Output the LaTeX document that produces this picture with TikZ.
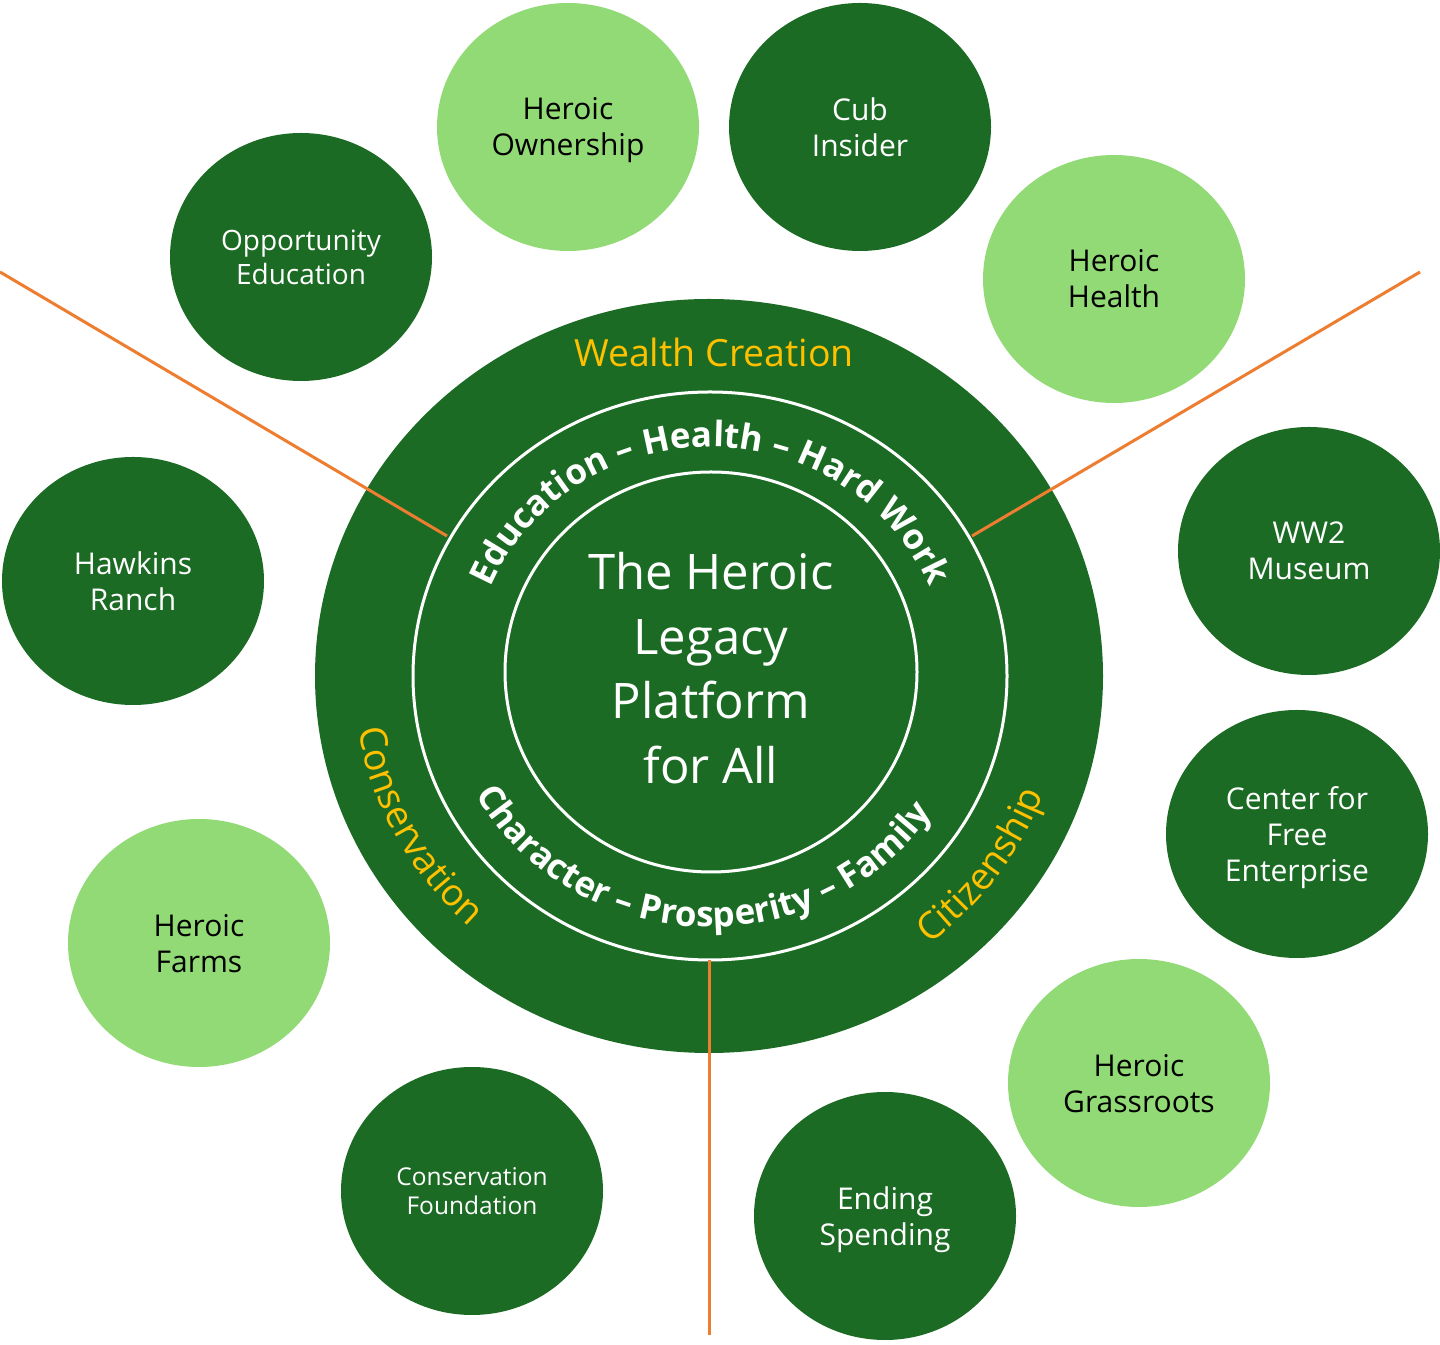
\documentclass[tikz,border=0pt]{standalone}
\usepackage{fontspec}
\setmainfont{Open Sans}
\usetikzlibrary{shapes.geometric,decorations.text}
\definecolor{dkgreen}{HTML}{1B6B24}
\definecolor{ltgreen}{HTML}{92DA76}
\definecolor{gold}{HTML}{FFC000}
\definecolor{orng}{HTML}{ED7D31}
\newcommand{\arcfmt}{\bfseries\fontsize{35}{35}\selectfont}
\newcommand{\goldfmt}{\fontsize{37.5}{37.5}\selectfont}
\begin{document}
\begin{tikzpicture}[x=1pt,y=1pt,
  bubble/.style={ellipse, minimum width=262pt, minimum height=248pt, inner sep=0pt, align=center, text depth=0pt, font=\fontsize{30}{36}\selectfont},
  dk/.style={bubble, fill=dkgreen, text=white},
  lt/.style={bubble, fill=ltgreen, text=black},
  ringline/.style={draw=white, line width=3pt, fill=none},
  sepline/.style={draw=orng, line width=3pt}]
\useasboundingbox (0,0) rectangle (1440,1344);

% main disc and rings
\node[ellipse, fill=dkgreen, minimum width=788pt, minimum height=754pt, inner sep=0pt] (disc) at (709,668) {};
\node[ellipse, ringline, minimum width=594pt, minimum height=568pt, inner sep=0pt] (midring) at (710,668) {};
\node[ellipse, ringline, minimum width=412pt, minimum height=400pt, inner sep=0pt] (inring) at (711,672) {};
\coordinate (c) at (710,668);

% separators
\coordinate (l0) at (0,1072);
\coordinate (l1) at (447,808);
\coordinate (r0) at (1420,1072);
\coordinate (r1) at (972,808);
\coordinate (b0) at (709,384);
\coordinate (b1) at (709,9);
\draw[sepline] (l0) -- (l1);
\draw[sepline] (r0) -- (r1);
\draw[sepline] (b0) -- (b1);

% bubbles
\node[lt] (own) at (568,1217) {Heroic\\Ownership};
\node[dk] (cub) at (860,1217) {Cub\\Insider};
\node[dk, font=\fontsize{28}{34}\selectfont] (opp) at (301,1087) {Opportunity\\Education};
\node[lt] (health) at (1114,1065) {Heroic\\Health};
\node[dk] (hawk) at (133,763) {Hawkins\\Ranch};
\node[dk] (ww2) at (1309,793) {WW2\\Museum};
\node[dk] (cfe) at (1297,510) {Center for\\Free\\Enterprise};
\node[lt] (farms) at (199,401) {Heroic\\Farms};
\node[lt] (grass) at (1139,261) {Heroic\\Grassroots};
\node[dk, font=\fontsize{24.5}{29}\selectfont] (cfound) at (472,153) {Conservation\\Foundation};
\node[dk] (ending) at (885,128) {Ending\\Spending};

% center title
\node[text=white, align=center, font=\fontsize{49}{64.5}\selectfont] (title) at (711,676) {The Heroic\\Legacy\\Platform\\for All};

% gold labels
\node[text=gold, anchor=base, font=\goldfmt, inner sep=0pt] (wealth) at (714,977) {Wealth Creation};
\path[decorate, decoration={text along path, text align=left, text color=gold,
  text={|\goldfmt|Conservation}}]
  ([shift={(189:356pt and 340pt)}]c) arc[start angle=189, end angle=265, x radius=356pt, y radius=340pt];
\path[decorate, decoration={text along path, text align=left, text color=gold,
  text={|\goldfmt|Citizenship}}]
  ([shift={(-52:356pt and 340pt)}]c) arc[start angle=-52, end angle=20, x radius=356pt, y radius=340pt];

% white arc texts
\path[decorate, decoration={text along path, text align=center, text color=white,
  text={|\arcfmt|Education – Health – Hard Work}}]
  ([shift={(180:238pt and 229pt)}]c) arc[start angle=180, end angle=0, x radius=238pt, y radius=229pt];
\path[decorate, decoration={text along path, text align=center, text color=white,
  text={|\arcfmt|Character – Prosperity – Family}}]
  ([shift={(180:265pt and 251pt)}]c) arc[start angle=180, end angle=355, x radius=265pt, y radius=251pt];
\end{tikzpicture}
\end{document}
